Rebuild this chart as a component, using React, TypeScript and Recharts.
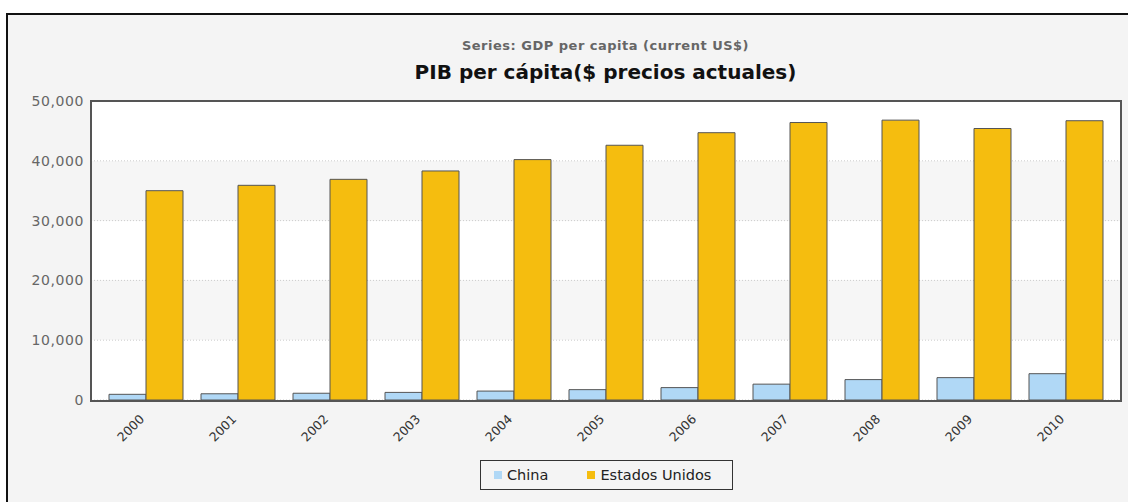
import { BarChart, Bar, XAxis, YAxis, CartesianGrid } from 'recharts';

const years = ['2000', '2001', '2002', '2003', '2004', '2005', '2006', '2007', '2008', '2009', '2010'];
const china = [950, 1040, 1130, 1270, 1490, 1730, 2070, 2650, 3410, 3740, 4400];
const usa = [35000, 35900, 36900, 38300, 40200, 42600, 44700, 46400, 46800, 45400, 46700];
const yTicks = [0, 10000, 20000, 30000, 40000, 50000];

const seriesInfo = [
  { key: 'china', name: 'China', color: '#b0d8f6' },
  { key: 'usa', name: 'Estados Unidos', color: '#f5bd0f' },
];

const data = years.map((year, i) => ({ year, china: china[i], usa: usa[i] }));

const font = '"DejaVu Sans", Verdana, sans-serif';

// rotated year labels under the bars
function YearTick({ x, y, payload }: any) {
  return (
    <g transform={`translate(${x - 1},${y + 20})`}>
      <text x={0} y={0} textAnchor="end" transform="rotate(-45)" fill="#333" fontSize={12.5} fontFamily={font}>
        {payload.value}
      </text>
    </g>
  );
}

export default function App() {
  return (
    <div style={{ position: 'absolute', left: 0, top: 0, width: 1128, height: 502, background: '#fff', overflow: 'hidden', fontFamily: font }}>
      {/* outer frame */}
      <div style={{ position: 'absolute', left: 6, top: 13, width: 1200, height: 600, borderTop: '2px solid #111', borderLeft: '2px solid #111', background: '#f4f4f4' }} />

      {/* titles */}
      <div style={{ position: 'absolute', left: 91, width: 1029, top: 38, textAlign: 'center', fontSize: 13, letterSpacing: 0.5, fontWeight: 'bold', color: '#666' }}>
        Series: GDP per capita (current US$)
      </div>
      <div style={{ position: 'absolute', left: 91, width: 1029, top: 60, textAlign: 'center', fontSize: 20, fontWeight: 'bold', color: '#111' }}>
        PIB per cápita($ precios actuales)
      </div>

      <div style={{ position: 'absolute', left: 0, top: 0 }}>
        <BarChart width={1128} height={502} data={data} margin={{ top: 101, right: 8, bottom: 72, left: 0 }} barGap={0} barSize={37}>
          <CartesianGrid
            vertical={false}
            stroke="#cccccc"
            strokeDasharray="1 2"
            horizontalFill={['#ffffff', '#f6f6f6']}
            fillOpacity={1}
          />
          <XAxis
            dataKey="year"
            height={30}
            padding={{ left: 9, right: 8 }}
            tickLine={false}
            tickSize={0}
            tickMargin={0}
            axisLine={false}
            tick={<YearTick />}
            interval={0}
          />
          <YAxis
            width={91}
            domain={[0, 50000]}
            ticks={yTicks}
            tickLine={false}
            tickSize={0}
            tickMargin={7}
            axisLine={false}
            tickFormatter={(v: number) => v.toLocaleString('en-US')}
            tick={{ fill: '#666', fontSize: 14, letterSpacing: 0.6, fontFamily: font }}
          />
          {seriesInfo.map((s) => (
            <Bar key={s.key} dataKey={s.key} name={s.name} fill={s.color} stroke="#555" strokeWidth={1} isAnimationActive={false} />
          ))}
        </BarChart>
      </div>

      {/* plot frame */}
      <div style={{ position: 'absolute', left: 90, top: 100, width: 1032, height: 302, border: '2px solid #555', boxSizing: 'border-box', pointerEvents: 'none' }} />

      {/* legend */}
      <div style={{ position: 'absolute', left: 480, top: 460, width: 253, height: 30, border: '1.5px solid #333', boxSizing: 'border-box', display: 'flex', alignItems: 'center', paddingLeft: 13, fontSize: 14.5, color: '#222', whiteSpace: 'nowrap' }}>
        {seriesInfo.map((s) => (
          <div key={s.key} style={{ display: 'flex', alignItems: 'center', marginRight: 39 }}>
            <span style={{ width: 8, height: 8, background: s.color, marginRight: 5, display: 'inline-block' }} />
            {s.name}
          </div>
        ))}
      </div>
    </div>
  );
}
